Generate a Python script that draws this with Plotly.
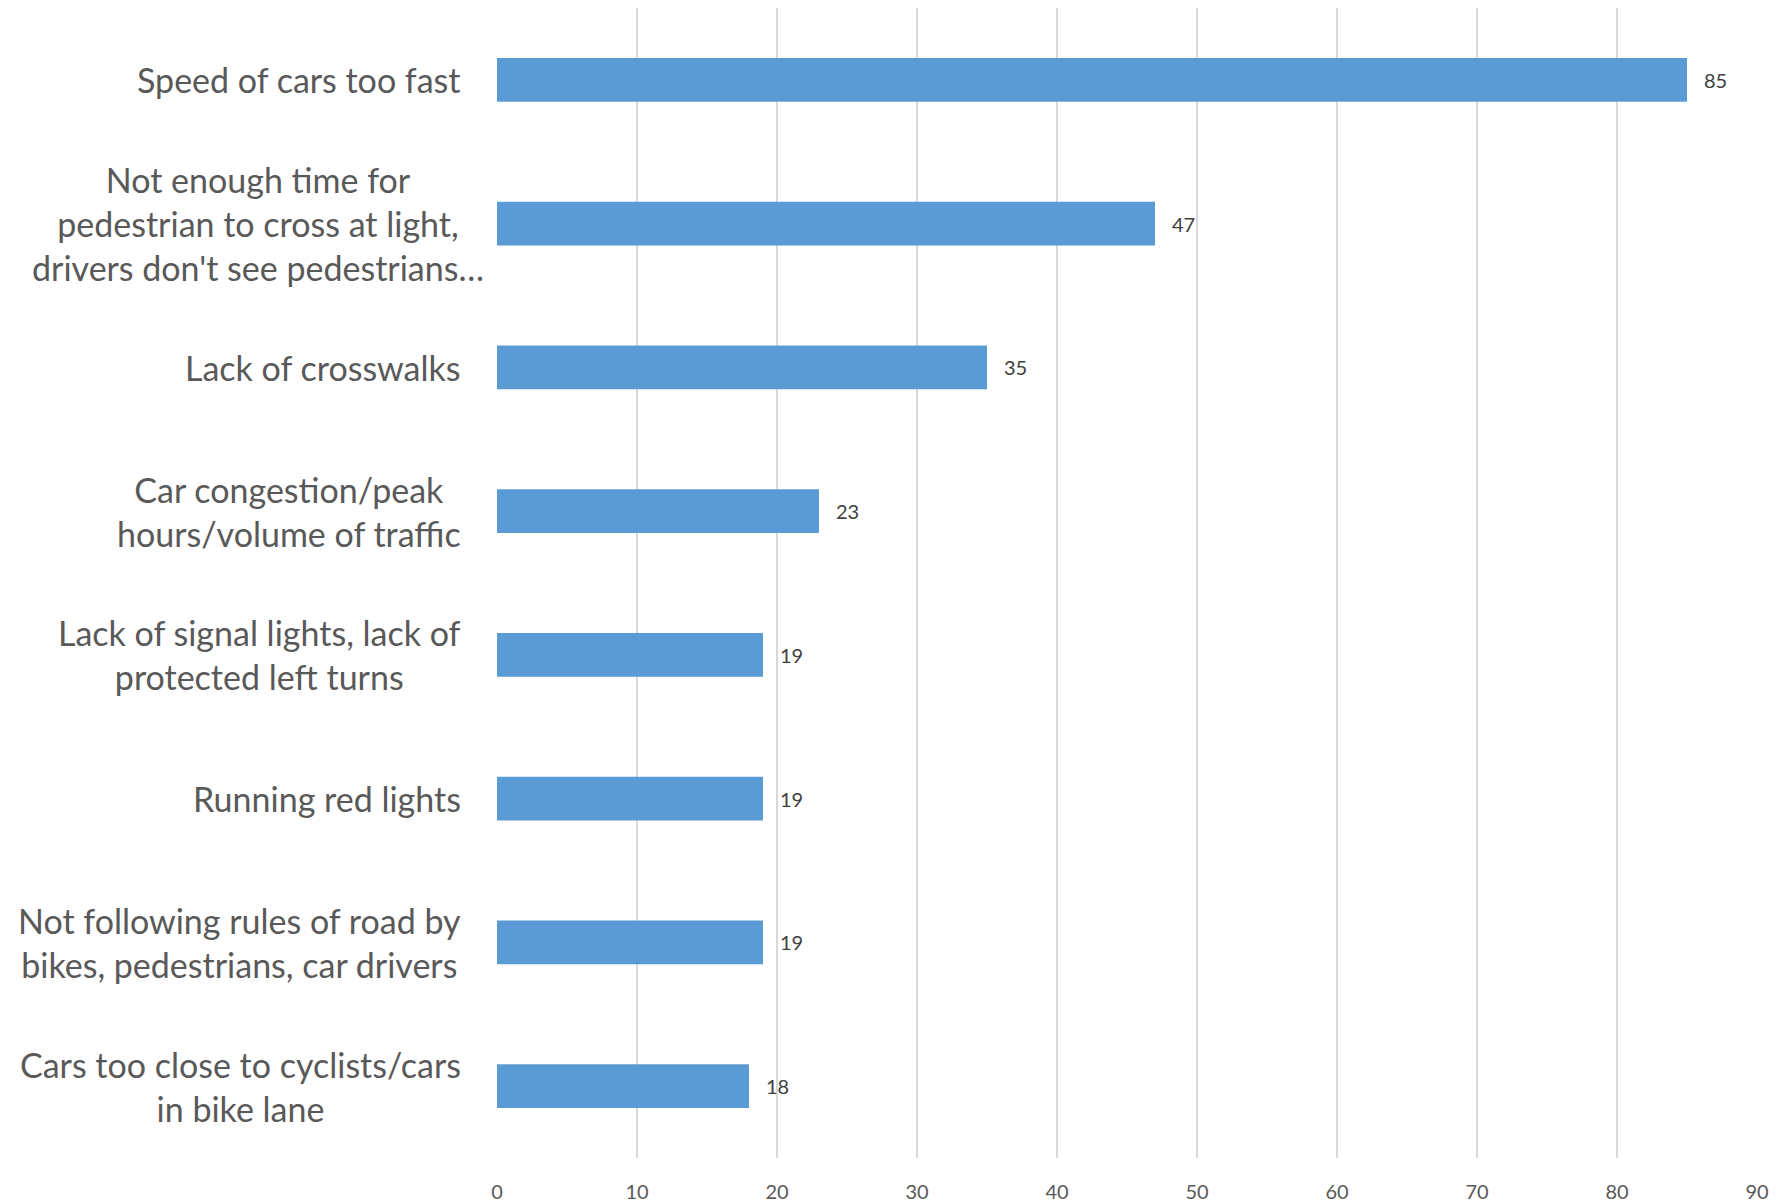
import plotly.graph_objects as go

categories = [
    "Speed of cars too fast",
    "Not enough time for<br>pedestrian to cross at light,<br>drivers don't see pedestrians…",
    "Lack of crosswalks",
    "Car congestion/peak<br>hours/volume of traffic",
    "Lack of signal lights, lack of<br>protected left turns",
    "Running red lights",
    "Not following rules of road by<br>bikes, pedestrians, car drivers",
    "Cars too close to cyclists/cars<br>in bike lane",
]
values = [85, 47, 35, 23, 19, 19, 19, 18]
x_ticks = [0, 10, 20, 30, 40, 50, 60, 70, 80, 90]

fig = go.Figure()
fig.add_trace(go.Bar(
    y=categories, x=values, orientation="h",
    marker=dict(color="#5B9BD5", line=dict(width=0)),
    cliponaxis=False,
))

# data labels
for c, v in zip(categories, values):
    fig.add_annotation(
        x=v, xref="x", y=c, yref="y", text=str(v), showarrow=False,
        xanchor="left", yanchor="middle", xshift=15,
        font=dict(family="Lato", size=20, color="#404040"),
    )

# category labels (centered multi-line blocks, right-aligned to the axis;
# the truncated label with an ellipsis overflows its box slightly, as in Excel)
for c in categories:
    shift = -34 + (23 if c.endswith("…") else 0)
    fig.add_annotation(
        x=0, xref="paper", y=c, yref="y", text=c, showarrow=False,
        xanchor="right", yanchor="middle", align="center", xshift=shift,
        font=dict(family="Lato", size=34, color="#595959"),
    )

fig.update_layout(
    width=1776, height=1202,
    margin=dict(l=497, r=19, t=8, b=44),
    paper_bgcolor="white", plot_bgcolor="white",
    bargap=0.694, showlegend=False,
    font=dict(family="Lato", color="#595959"),
)
fig.update_xaxes(
    range=[0, 90], tickvals=x_ticks, showgrid=True, gridcolor="#D9D9D9", gridwidth=1.5,
    zeroline=False, showline=False, ticks="", automargin=False, ticklabelstandoff=20,
    tickfont=dict(family="Lato", size=20, color="#595959"),
)
fig.update_yaxes(
    categoryorder="array", categoryarray=categories, autorange="reversed",
    showticklabels=False, showgrid=False, zeroline=False, showline=False, ticks="",
)

fig.write_html("out.html")
